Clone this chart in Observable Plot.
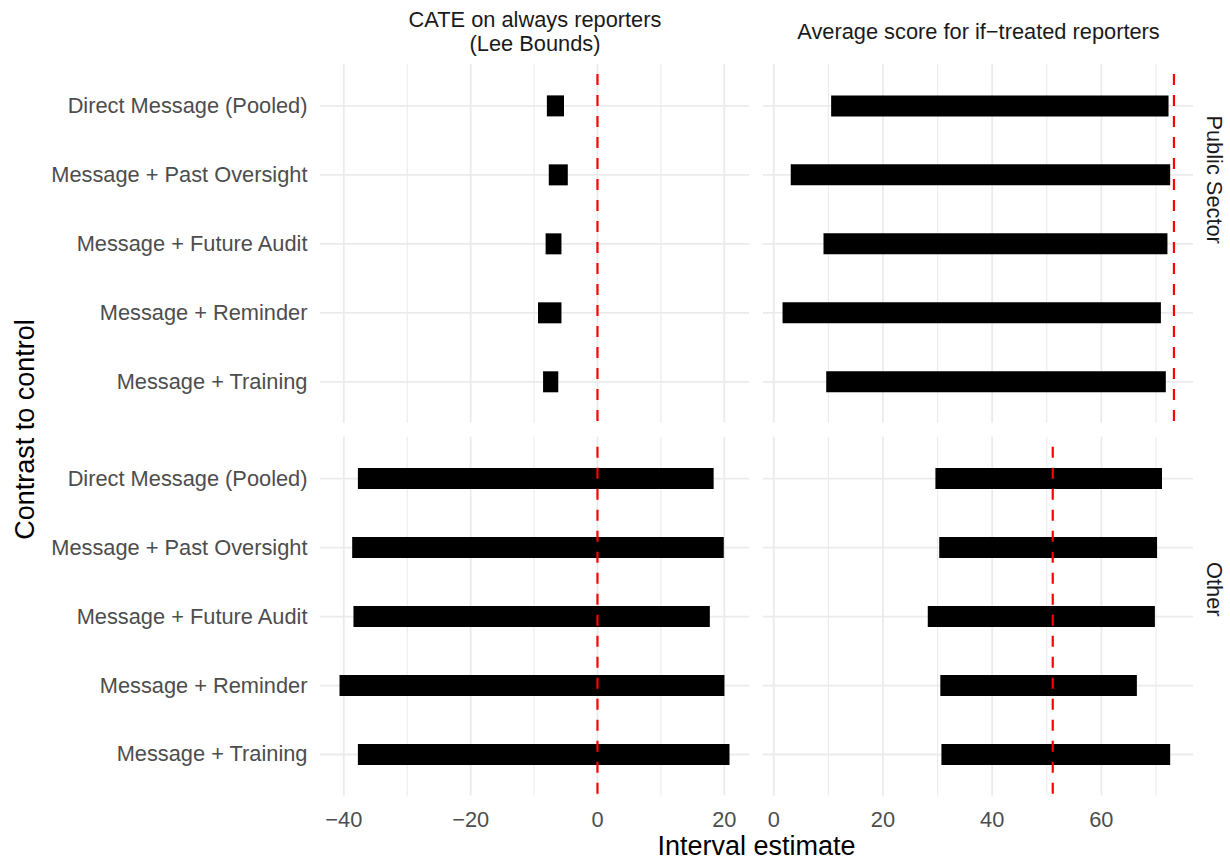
<!DOCTYPE html>
<html>
<head>
<meta charset="utf-8">
<script src="https://cdn.jsdelivr.net/npm/d3@7"></script>
<script src="https://cdn.jsdelivr.net/npm/@observablehq/plot@0.6"></script>
<style>
  html, body { margin: 0; padding: 0; background: white; }
  #wrap { position: relative; width: 1230px; height: 861px; background: white; overflow: hidden;
          font-family: "Liberation Sans", Arial, Helvetica, sans-serif; }
  #left, #right { position: absolute; top: 0; }
  #left { left: 0; }
  #right { left: 756px; }
  .xtitle { position: absolute; left: 556.5px; width: 400px; top: 832.6px; font-size: 27px; line-height: 27px;
            text-align: center; color: #000; white-space: nowrap; }
  .ytitle { position: absolute; left: -175px; width: 400px; top: 416px; height: 27px; font-size: 27px; line-height: 27px;
            text-align: center; color: #000; white-space: nowrap; transform: rotate(-90deg); }
</style>
</head>
<body>
<div id="wrap">
  <div id="left"></div>
  <div id="right"></div>
  <div class="ytitle">Contrast to control</div>
  <div class="xtitle">Interval estimate</div>
</div>
<script>
// ---------- data ----------
const categories = [
  "Direct Message (Pooled)",
  "Message + Past Oversight",
  "Message + Future Audit",
  "Message + Reminder",
  "Message + Training"
];
const sectors = ["Public Sector", "Other"];

const panelTitles = ["CATE on always reporters\n(Lee Bounds)", "Average score for if\u2212treated reporters"];

// CATE on always reporters (Lee bounds)
const cateLowerPublic = [-7.9, -7.6, -8.1, -9.3, -8.5];
const cateUpperPublic = [-5.2, -4.6, -5.6, -5.6, -6.1];
const cateLowerOther  = [-37.7, -38.6, -38.4, -40.6, -37.7];
const cateUpperOther  = [18.4, 20.0, 17.8, 20.1, 20.9];
const cateReference   = [0, 0];          // Public Sector, Other

// Average score for if-treated reporters
const avgLowerPublic = [10.6, 3.2, 9.2, 1.7, 9.7];
const avgUpperPublic = [72.4, 72.7, 72.2, 71.0, 71.9];
const avgLowerOther  = [29.7, 30.4, 28.3, 30.6, 30.8];
const avgUpperOther  = [71.2, 70.3, 69.9, 66.6, 72.7];
const avgReference   = [73.3, 51.1];     // Public Sector, Other

// tick values
const cateMajorTicks = [-40, -20, 0, 20];
const cateMinorTicks = [-30, -10, 10];
const avgMajorTicks  = [0, 20, 40, 60];
const avgMinorTicks  = [10, 30, 50, 70];

// ---------- helpers ----------
function rows(lowP, upP, lowO, upO) {
  const out = [];
  categories.forEach((c, i) => out.push({sector: sectors[0], category: c, lo: lowP[i], hi: upP[i]}));
  categories.forEach((c, i) => out.push({sector: sectors[1], category: c, lo: lowO[i], hi: upO[i]}));
  return out;
}
function refs(vals) { return sectors.map((s, i) => ({sector: s, value: vals[i]})); }
function expandDomain(vals) {
  const [a, b] = d3.extent(vals);
  const p = (b - a) * 0.05;
  return [a - p, b + p];
}
const fmt = d => d < 0 ? "\u2212" + Math.abs(d) : String(d);

const cateRows = rows(cateLowerPublic, cateUpperPublic, cateLowerOther, cateUpperOther);
const avgRows  = rows(avgLowerPublic, avgUpperPublic, avgLowerOther, avgUpperOther);
const cateRefs = refs(cateReference);
const avgRefs  = refs(avgReference);

const GRID = "#EBEBEB";
const TICK = "#4D4D4D";
const STRIP = "#1A1A1A";
const FS = 21.8;
const font = '"Liberation Sans", Arial, Helvetica, sans-serif';

function panel({data, refData, majors, minors, title, width, marginLeft, marginRight, showY, showStrip}) {
  const allVals = data.flatMap(d => [d.lo, d.hi]).concat(refData.map(d => d.value));
  const marks = [
    Plot.gridX(minors, {stroke: GRID, strokeOpacity: 1, strokeWidth: 1.1}),
    Plot.gridX(majors, {stroke: GRID, strokeOpacity: 1, strokeWidth: 1.8}),
    Plot.gridY(categories, {stroke: GRID, strokeOpacity: 1, strokeWidth: 1.8}),
    Plot.ruleY(data, {y: "category", fy: "sector", x1: "lo", x2: "hi", stroke: "black", strokeWidth: 21}),
    Plot.ruleX(refData, {x: "value", fy: "sector", stroke: "#FF0000", strokeWidth: 2.2,
                         strokeDasharray: "11,10", strokeDashoffset: 11}),
    Plot.axisX(majors, {tickSize: 0, tickPadding: 16, fill: TICK, label: null, tickFormat: fmt}),
    Plot.text([{sector: sectors[0], t: title}], {fy: "sector", text: "t", frameAnchor: "top", dy: -33,
               lineAnchor: "middle", lineHeight: 1.08, fill: STRIP, fontSize: FS})
  ];
  if (showY) marks.push(Plot.axisY(categories, {tickSize: 0, tickPadding: 13, fill: TICK, label: null}));
  if (showStrip) marks.push(Plot.text(sectors, {fy: d => d, text: d => d, frameAnchor: "right", dx: 20,
                                                rotate: 90, lineAnchor: "middle", fill: STRIP, fontSize: FS}));
  return Plot.plot({
    width, height: 861,
    marginLeft, marginRight, marginTop: 64, marginBottom: 65.6,
    style: {fontFamily: font, fontSize: FS + "px", background: "transparent", overflow: "visible"},
    x: {domain: expandDomain(allVals), axis: null, label: null, round: false},
    y: {type: "point", domain: categories, padding: 0.6, axis: null, label: null, round: false},
    fy: {domain: sectors, paddingInner: 0.0376, paddingOuter: 0, axis: null, label: null, round: false},
    marks
  });
}

document.getElementById("left").append(panel({
  data: cateRows, refData: cateRefs, majors: cateMajorTicks, minors: cateMinorTicks, title: panelTitles[0],
  width: 756, marginLeft: 320, marginRight: 7, showY: true, showStrip: false
}));
document.getElementById("right").append(panel({
  data: avgRows, refData: avgRefs, majors: avgMajorTicks, minors: avgMinorTicks, title: panelTitles[1],
  width: 474, marginLeft: 7, marginRight: 37, showY: false, showStrip: true
}));
</script>
</body>
</html>
